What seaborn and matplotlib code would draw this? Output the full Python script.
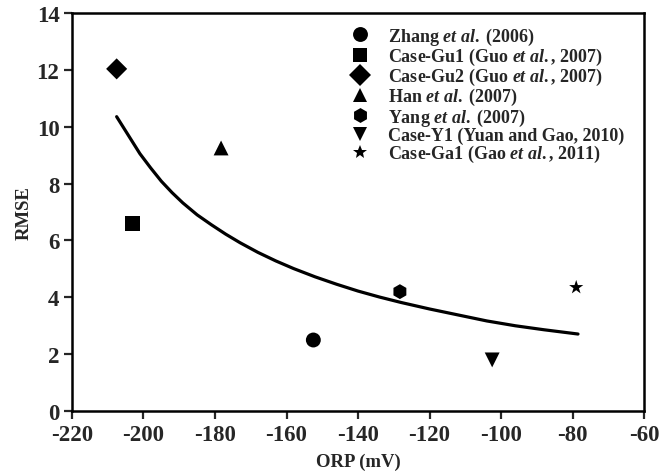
import numpy as np
import pandas as pd
import seaborn as sns
import matplotlib.pyplot as plt

# studies and their (ORP, RMSE) points
studies = [r'Zhang $\mathit{et\ al.}$ (2006)',
           r'Case-Gu1 (Guo $\mathit{et\ al.{,}}$ 2007)',
           r'Case-Gu2 (Guo $\mathit{et\ al.{,}}$ 2007)',
           r'Han $\mathit{et\ al.}$ (2007)',
           r'Yang $\mathit{et\ al.}$ (2007)',
           r'Case-Y1 (Yuan and Gao, 2010)',
           r'Case-Ga1 (Gao $\mathit{et\ al.{,}}$ 2011)']
orp = [-152.5, -203, -207.5, -178.3, -128.3, -102.5, -79]
rmse = [2.5, 6.6, 12.03, 9.25, 4.2, 1.8, 4.35]
marker_list = ['o', 's', 'D', '^', 'h', 'v', '*']

# fitted trend curve, sampled along the drawn line
fit_x = [-207.5, -204, -201, -198, -195, -192, -189, -185, -181, -177,
         -173, -168, -163, -158, -152, -146, -140, -134, -128, -120,
         -112, -104, -96, -88, -78.5]
fit_y = [10.35, 9.65, 9.05, 8.55, 8.08, 7.68, 7.32, 6.9, 6.55, 6.22,
         5.92, 5.58, 5.28, 5.01, 4.72, 4.46, 4.22, 4.01, 3.82, 3.59,
         3.38, 3.17, 3.0, 2.86, 2.71]

df = pd.DataFrame({'study': studies, 'ORP': orp, 'RMSE': rmse})
fit = pd.DataFrame({'x': fit_x, 'y': fit_y})

sns.set_theme(style='ticks')
plt.rcParams['font.family'] = ['Liberation Serif', 'DejaVu Serif']
plt.rcParams['font.weight'] = 'bold'
plt.rcParams['axes.unicode_minus'] = False
plt.rcParams['mathtext.fontset'] = 'custom'
plt.rcParams['mathtext.it'] = 'Liberation Serif:italic'
plt.rcParams['mathtext.rm'] = 'Liberation Serif:bold'

fig, ax = plt.subplots(figsize=(6.6, 4.77), dpi=100)
fig.subplots_adjust(left=0.109, right=0.976, top=0.971, bottom=0.136)

sns.lineplot(data=fit, x='x', y='y', color='black', linewidth=2.3, ax=ax,
             sort=False)
sns.scatterplot(data=df, x='ORP', y='RMSE', style='study',
                markers=dict(zip(studies, marker_list)), color='black',
                s=115, linewidth=0, ax=ax)

ax.set_xlim(-220, -60)
ax.set_ylim(0, 14)
ax.set_xticks(np.arange(-220, -59, 20))
ax.set_yticks(np.arange(0, 15, 2))
ax.set_xlabel('ORP (mV)', fontsize=13.5, fontweight='bold', labelpad=6)
ax.set_ylabel('RMSE', fontsize=13.5, fontweight='bold', labelpad=3)
ax.tick_params(labelsize=16.5, width=1.6, length=6, direction='out', pad=3)
for lab in ax.get_xticklabels() + ax.get_yticklabels():
    lab.set_fontweight('bold')
for sp in ax.spines.values():
    sp.set_linewidth(1.8)
    sp.set_color('black')

handles, labels = ax.get_legend_handles_labels()
ax.legend(handles, labels, loc='upper right', bbox_to_anchor=(0.985, 0.995),
          frameon=False, labelspacing=-0.05, handletextpad=0.6,
          borderaxespad=0.2, prop={'weight': 'bold', 'size': 13})

fig.savefig('out.png', dpi=100)
